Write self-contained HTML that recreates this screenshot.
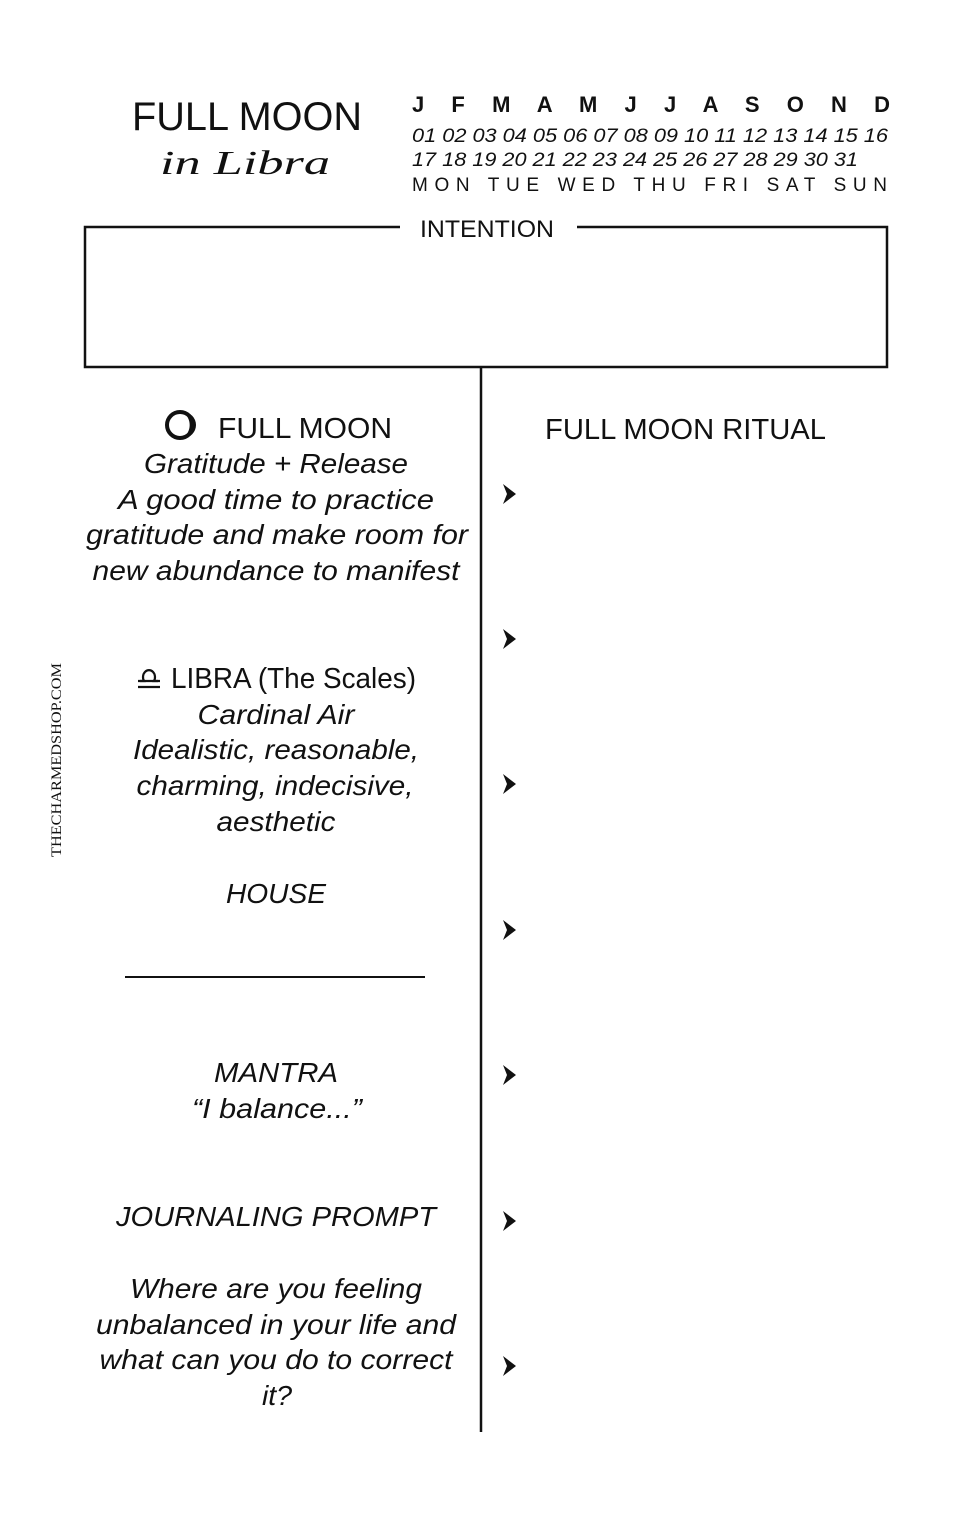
<!DOCTYPE html>
<html><head><meta charset="utf-8"><style>html,body{margin:0;padding:0;background:#fff}svg{display:block}</style></head>
<body>
<svg width="972" height="1516" viewBox="0 0 972 1516" xmlns="http://www.w3.org/2000/svg" font-family="Liberation Sans, sans-serif" fill="#111">
<text x="132" y="130" font-size="40" textLength="230" lengthAdjust="spacingAndGlyphs">FULL MOON</text>
<text x="160" y="174" font-size="34" font-style="italic" font-family="Liberation Serif, serif" textLength="170" lengthAdjust="spacingAndGlyphs">in Libra</text>
<text x="412" y="112" font-size="22" font-weight="bold" textLength="478" lengthAdjust="spacing">J F M A M J J A S O N D</text>
<text x="412" y="142" font-size="19" font-style="italic" textLength="476" lengthAdjust="spacingAndGlyphs">01 02 03 04 05 06 07 08 09 10 11 12 13 14 15 16</text>
<text x="412" y="166" font-size="19" font-style="italic" textLength="446" lengthAdjust="spacingAndGlyphs">17 18 19 20 21 22 23 24 25 26 27 28 29 30 31</text>
<text x="412" y="191" font-size="19" textLength="478" lengthAdjust="spacing" letter-spacing="3">MON TUE WED THU FRI SAT SUN</text>
<path d="M400 227 H85 V367 H887 V227 H577" fill="none" stroke="#111" stroke-width="2.5"/>
<text x="420" y="237" font-size="24" textLength="134" lengthAdjust="spacingAndGlyphs">INTENTION</text>
<line x1="481" y1="367" x2="481" y2="1432" stroke="#111" stroke-width="2.5"/>
<circle cx="180" cy="425" r="13" fill="none" stroke="#111" stroke-width="4"/>
<path d="M183 412 A13 13 0 0 1 183 438 A16 16 0 0 0 183 412Z" fill="#111"/>
<text x="218" y="438" font-size="29" textLength="174" lengthAdjust="spacingAndGlyphs">FULL MOON</text>
<g font-style="italic" font-size="28" text-anchor="middle" lengthAdjust="spacingAndGlyphs">
<text x="276" y="473" textLength="264" lengthAdjust="spacingAndGlyphs">Gratitude + Release</text>
<text x="276" y="509" textLength="316" lengthAdjust="spacingAndGlyphs">A good time to practice</text>
<text x="277" y="544" textLength="382" lengthAdjust="spacingAndGlyphs">gratitude and make room for</text>
<text x="276" y="580" textLength="367" lengthAdjust="spacingAndGlyphs">new abundance to manifest</text>
<text x="276" y="724" textLength="157" lengthAdjust="spacingAndGlyphs">Cardinal Air</text>
<text x="276" y="759" textLength="286" lengthAdjust="spacingAndGlyphs">Idealistic, reasonable,</text>
<text x="275" y="795" textLength="277" lengthAdjust="spacingAndGlyphs">charming, indecisive,</text>
<text x="276" y="831" textLength="119" lengthAdjust="spacingAndGlyphs">aesthetic</text>
<text x="276" y="903" textLength="100" lengthAdjust="spacingAndGlyphs">HOUSE</text>
<text x="276" y="1082" textLength="124" lengthAdjust="spacingAndGlyphs">MANTRA</text>
<text x="277" y="1118" textLength="170" lengthAdjust="spacingAndGlyphs">“I balance...”</text>
<text x="276" y="1226" textLength="320" lengthAdjust="spacingAndGlyphs">JOURNALING PROMPT</text>
<text x="276" y="1298" textLength="292" lengthAdjust="spacingAndGlyphs">Where are you feeling</text>
<text x="276" y="1334" textLength="360" lengthAdjust="spacingAndGlyphs">unbalanced in your life and</text>
<text x="276" y="1369" textLength="353" lengthAdjust="spacingAndGlyphs">what can you do to correct</text>
<text x="277" y="1405" textLength="30" lengthAdjust="spacingAndGlyphs">it?</text>
</g>
<g stroke="#111" stroke-width="2.2" fill="none"><line x1="138" y1="687" x2="160" y2="687"/><line x1="138" y1="681" x2="160" y2="681"/><path d="M140 681 H144 A6 7 0 1 1 154 681 H158"/></g>
<text x="171" y="688" font-size="29" textLength="245" lengthAdjust="spacingAndGlyphs">LIBRA (The Scales)</text>
<line x1="125" y1="977" x2="425" y2="977" stroke="#111" stroke-width="2"/>
<text x="545" y="439" font-size="29" textLength="281" lengthAdjust="spacingAndGlyphs">FULL MOON RITUAL</text>
<g fill="#111">
<path d="M503 484 L516 494 L503 504 L507 494Z"/>
<path d="M503 629 L516 639 L503 649 L507 639Z"/>
<path d="M503 774 L516 784 L503 794 L507 784Z"/>
<path d="M503 920 L516 930 L503 940 L507 930Z"/>
<path d="M503 1065 L516 1075 L503 1085 L507 1075Z"/>
<path d="M503 1211 L516 1221 L503 1231 L507 1221Z"/>
<path d="M503 1356 L516 1366 L503 1376 L507 1366Z"/>
</g>
<text transform="translate(61 857) rotate(-90)" font-family="Liberation Serif, serif" font-size="15" textLength="194" lengthAdjust="spacingAndGlyphs">THECHARMEDSHOP.COM</text>
</svg>
</body></html>
